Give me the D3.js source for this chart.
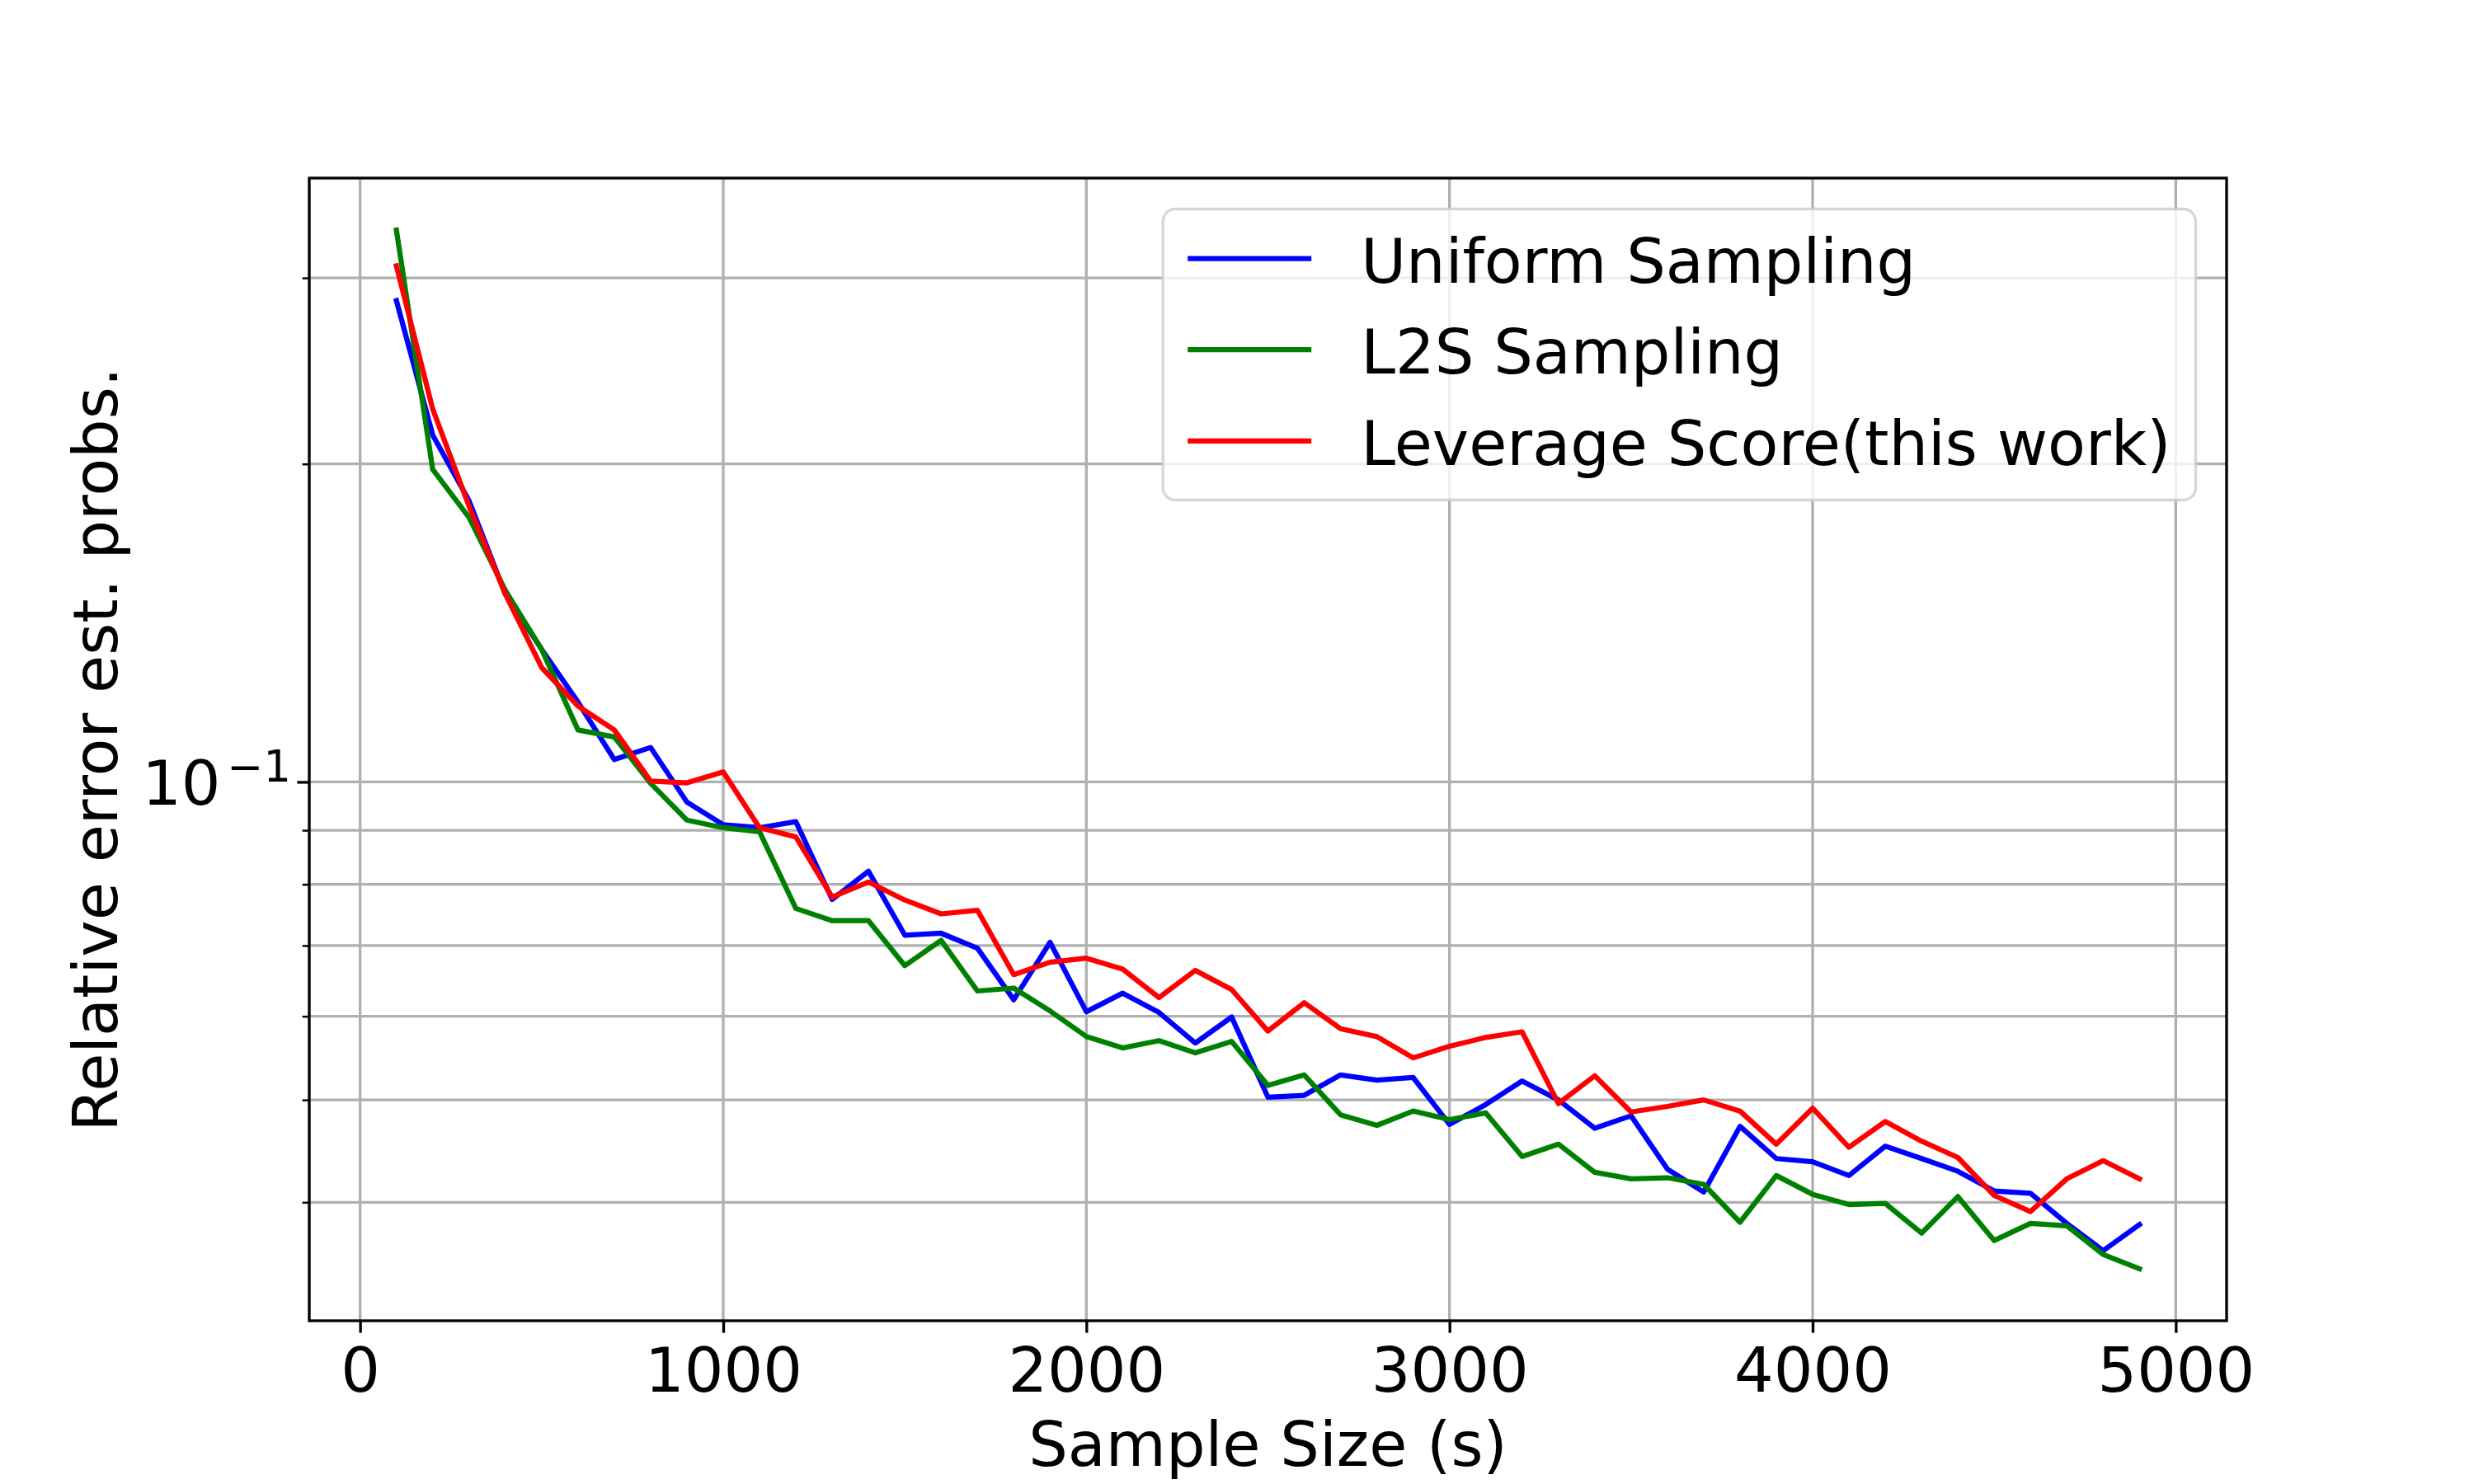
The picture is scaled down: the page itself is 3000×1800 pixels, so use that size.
<!DOCTYPE html>
<html lang="en">

<head>
    <meta charset="UTF-8">
    <title>Relative error vs sample size</title>
    <script src="https://d3js.org/d3.v7.min.js"></script>
    <style>
        body {
            margin: 0;
            background: white;
        }

        text {
            font-family: "DejaVu Sans", sans-serif;
            fill: black;
        }

        .grid line {
            stroke: #b0b0b0;
            stroke-width: 3.33;
        }

        .series {
            fill: none;
            stroke-width: 6.25;
            stroke-linejoin: round;
            stroke-linecap: square;
        }
    </style>
</head>

<body>
    <div id="chart"></div>

    <script>
        // Sample sizes (x)
        const sampleSizes = [100, 200, 300, 400, 500, 600, 700, 800, 900, 1000,
            1100, 1200, 1300, 1400, 1500, 1600, 1700, 1800, 1900, 2000,
            2100, 2200, 2300, 2400, 2500, 2600, 2700, 2800, 2900, 3000,
            3100, 3200, 3300, 3400, 3500, 3600, 3700, 3800, 3900, 4000,
            4100, 4200, 4300, 4400, 4500, 4600, 4700, 4800, 4900];

        // Relative error
        const uniformErr = [0.2855, 0.213, 0.1846, 0.1506, 0.1335, 0.119, 0.105, 0.1078, 0.0957, 0.0911,
            0.0905, 0.0917, 0.0774, 0.0823, 0.0716, 0.0719, 0.0696, 0.0622, 0.0705, 0.0606,
            0.0631, 0.0605, 0.0566, 0.0599, 0.0503, 0.0505, 0.0528, 0.0522, 0.0525, 0.0474,
            0.0495, 0.0521, 0.0500, 0.0470, 0.0483, 0.0430, 0.0409, 0.0472, 0.0440, 0.0437,
            0.0424, 0.0452, 0.0440, 0.0428, 0.0410, 0.0408, 0.0382, 0.0360, 0.0381];

        const l2sErr = [0.333, 0.1976, 0.178, 0.1518, 0.1335, 0.112, 0.1103, 0.0997, 0.0920, 0.0905,
            0.0897, 0.0759, 0.0739, 0.0739, 0.0670, 0.0708, 0.0634, 0.0638, 0.0607, 0.0574,
            0.0560, 0.0569, 0.0554, 0.0568, 0.0516, 0.0528, 0.0484, 0.0473, 0.0488, 0.0479,
            0.0486, 0.0442, 0.0454, 0.0427, 0.0421, 0.0422, 0.0416, 0.0383, 0.0424, 0.0407,
            0.0398, 0.0399, 0.0374, 0.0405, 0.0368, 0.0382, 0.0380, 0.0357, 0.0346];

        const leverageErr = [0.308, 0.2254, 0.1824, 0.1506, 0.1283, 0.118, 0.112, 0.1002, 0.0998, 0.1022,
            0.0905, 0.0887, 0.0778, 0.0804, 0.0773, 0.0750, 0.0756, 0.0657, 0.0675, 0.0681,
            0.0665, 0.0625, 0.0663, 0.0636, 0.0581, 0.0618, 0.0584, 0.0574, 0.0548, 0.0562,
            0.0573, 0.0580, 0.0496, 0.0527, 0.0487, 0.0493, 0.0500, 0.0488, 0.0454, 0.0491,
            0.0451, 0.0477, 0.0457, 0.0441, 0.0406, 0.0392, 0.0421, 0.0438, 0.0421];

        const seriesNames = ["Uniform Sampling", "L2S Sampling", "Leverage Score(this work)"];
        const seriesColors = ["blue", "green", "red"];

        const xTicks = [0, 1000, 2000, 3000, 4000, 5000];
        const yMajorTicks = [0.1];
        const yMinorTicks = [0.04, 0.05, 0.06, 0.07, 0.08, 0.09, 0.2, 0.3];

        const allSeries = [uniformErr, l2sErr, leverageErr];

        // Dimensions (10x6 in figure at 300 dpi)
        const W = 3000, H = 1800;
        const margin = { top: 216, right: 300, bottom: 198, left: 375 },
            width = W - margin.left - margin.right,
            height = H - margin.top - margin.bottom;
        const fontPx = 75;

        const svg = d3.select("#chart")
            .append("svg")
            .attr("width", W)
            .attr("height", H);

        const g = svg.append("g")
            .attr("transform", `translate(${margin.left},${margin.top})`);

        // X scale with 5% padding like matplotlib
        const xMin = d3.min(sampleSizes), xMax = d3.max(sampleSizes);
        const xPad = (xMax - xMin) * 0.05;
        const x = d3.scaleLinear()
            .domain([xMin - xPad, xMax + xPad])
            .range([0, width]);

        // Y log scale, padded 5% in log space
        const flat = allSeries.flat();
        const lo = Math.log10(d3.min(flat)), hi = Math.log10(d3.max(flat));
        const lPad = (hi - lo) * 0.05;
        const y = d3.scaleLog()
            .domain([Math.pow(10, lo - lPad), Math.pow(10, hi + lPad)])
            .range([height, 0]);

        // Grid
        const grid = g.append("g").attr("class", "grid");
        grid.selectAll(".gx")
            .data(xTicks)
            .enter().append("line")
            .attr("x1", d => x(d)).attr("x2", d => x(d))
            .attr("y1", 0).attr("y2", height);
        grid.selectAll(".gy")
            .data(yMajorTicks.concat(yMinorTicks))
            .enter().append("line")
            .attr("x1", 0).attr("x2", width)
            .attr("y1", d => y(d)).attr("y2", d => y(d));

        // Lines
        const line = d3.line()
            .x((d, i) => x(sampleSizes[i]))
            .y(d => y(d));

        g.append("g").selectAll("path")
            .data(allSeries)
            .enter().append("path")
            .attr("class", "series")
            .attr("stroke", (d, i) => seriesColors[i])
            .attr("d", line);

        // X axis
        const xAxis = g.append("g")
            .attr("transform", `translate(0,${height})`)
            .call(d3.axisBottom(x).tickValues(xTicks).tickSize(14.6).tickPadding(14.6).tickFormat(d3.format("d")));
        xAxis.select(".domain").remove();
        xAxis.selectAll(".tick line").attr("stroke-width", 3.33);
        xAxis.selectAll(".tick text")
            .attr("font-size", fontPx)
            .attr("font-family", "DejaVu Sans")
            .attr("dy", null)
            .attr("y", 1688 - margin.top - height);

        // Y axis: major tick 10^-1, minor ticks unlabeled
        const yAxis = g.append("g")
            .call(d3.axisLeft(y).tickValues(yMajorTicks).tickSize(14.6).tickFormat(""));
        yAxis.select(".domain").remove();
        yAxis.selectAll(".tick line").attr("stroke-width", 3.33);

        const yMinor = g.append("g")
            .call(d3.axisLeft(y).tickValues(yMinorTicks).tickSize(8.33).tickFormat(""));
        yMinor.select(".domain").remove();
        yMinor.selectAll(".tick line").attr("stroke-width", 2.5);

        yAxis.selectAll(".tick").each(function (d) {
            const t = d3.select(this).append("text")
                .attr("x", -22)
                .attr("y", 27)
                .attr("text-anchor", "end")
                .attr("font-size", fontPx)
                .attr("font-family", "DejaVu Sans")
                .attr("fill", "black");
            t.append("tspan").text("10");
            t.append("tspan")
                .attr("font-size", fontPx * 0.7)
                .attr("dy", -28)
                .attr("dx", 8)
                .text("\u2212" + (-Math.round(Math.log10(d))));
        });

        // Spines
        g.append("rect")
            .attr("width", width)
            .attr("height", height)
            .attr("fill", "none")
            .attr("stroke", "black")
            .attr("stroke-width", 3.33);

        // Axis labels
        svg.append("text")
            .attr("x", margin.left + width / 2)
            .attr("y", 1778)
            .attr("text-anchor", "middle")
            .attr("font-size", fontPx)
            .text("Sample Size (s)");

        svg.append("text")
            .attr("transform", `translate(142,${margin.top + height / 2}) rotate(-90)`)
            .attr("text-anchor", "middle")
            .attr("font-size", fontPx)
            .text("Relative error est. probs.");

        // Legend (upper right)
        const legend = g.append("g");
        const pad = 0.4 * fontPx, handleLen = 2 * fontPx, textPad = 0.8 * fontPx, rowH = 110.7;
        const labels = legend.selectAll(".lab")
            .data(seriesNames)
            .enter().append("text")
            .attr("font-size", fontPx)
            .attr("dominant-baseline", "central")
            .text(d => d);
        const maxW = d3.max(labels.nodes(), n => n.getComputedTextLength());
        const boxW = pad + handleLen + textPad + maxW + pad;
        const boxH = 353;
        const boxX = width - 0.5 * fontPx - boxW;
        const boxY = 0.5 * fontPx;

        legend.insert("rect", "text")
            .attr("x", boxX).attr("y", boxY)
            .attr("width", boxW).attr("height", boxH)
            .attr("rx", 15).attr("ry", 15)
            .attr("fill", "white").attr("fill-opacity", 0.8)
            .attr("stroke", "#cccccc").attr("stroke-opacity", 0.8)
            .attr("stroke-width", 3.33);

        const rowY = i => boxY + 60 + i * rowH;
        legend.selectAll(".handle")
            .data(seriesNames)
            .enter().append("line")
            .attr("x1", boxX + pad).attr("x2", boxX + pad + handleLen)
            .attr("y1", (d, i) => rowY(i)).attr("y2", (d, i) => rowY(i))
            .attr("stroke", (d, i) => seriesColors[i])
            .attr("stroke-width", 6.25);
        labels
            .attr("x", boxX + pad + handleLen + textPad)
            .attr("y", (d, i) => rowY(i) + 3);
    </script>
</body>

</html>
